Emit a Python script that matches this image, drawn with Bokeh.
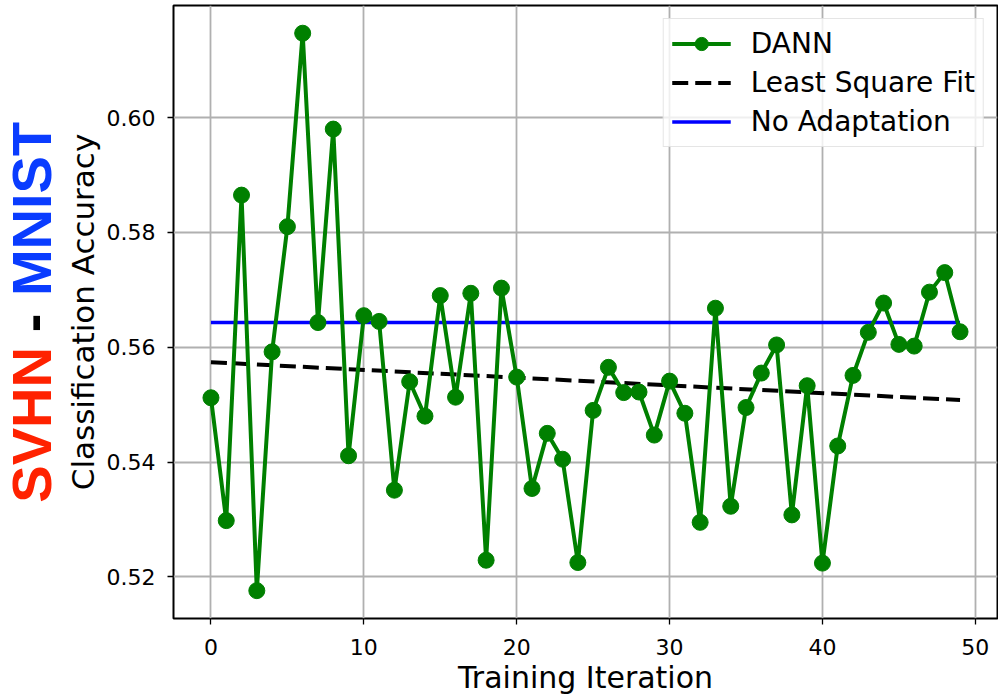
import math
from bokeh.plotting import figure
from bokeh.layouts import row
from bokeh.models import (Range1d, FixedTicker, PrintfTickFormatter, Legend, LegendItem, Label)
from bokeh.embed import file_html
from bokeh.resources import INLINE

# ---- data ----
iterations = list(range(50))
dann_acc = [0.5512, 0.5298, 0.5865, 0.5176, 0.5592, 0.5810, 0.6147, 0.5643, 0.5980, 0.5411,
            0.5655, 0.5645, 0.5351, 0.5540, 0.5480, 0.5690, 0.5513, 0.5694, 0.5229, 0.5703,
            0.5548, 0.5354, 0.5450, 0.5405, 0.5225, 0.5490, 0.5565, 0.5521, 0.5522, 0.5447,
            0.5541, 0.5485, 0.5295, 0.5668, 0.5323, 0.5495, 0.5555, 0.5604, 0.5308, 0.5533,
            0.5224, 0.5428, 0.5551, 0.5626, 0.5677, 0.5605, 0.5602, 0.5696, 0.5730, 0.5627]
fit_x = [0, 49]
fit_acc = [0.5574, 0.5508]
no_adapt_x = [0, 49]
no_adapt_acc = [0.5643, 0.5643]
x_ticks = [0, 10, 20, 30, 40, 50]
y_ticks = [0.52, 0.54, 0.56, 0.58, 0.60]
title_parts = ["SVHN", "-", "MNIST"]
title_colors = ["#ff2200", "black", "#0a3cff"]

FONT = "DejaVu Sans"
H = 697
SIDE_W = 103
FRAME_TOP, FRAME_BOTTOM = 5, 619

# ---- main chart ----
p = figure(width=895, height=H, output_backend="svg", toolbar_location=None,
           x_range=Range1d(-2.45, 51.45), y_range=Range1d(0.51275, 0.61953),
           min_border_left=70, min_border_right=1, min_border_top=FRAME_TOP,
           min_border_bottom=H - FRAME_BOTTOM)

p.outline_line_color = "black"
p.outline_line_width = 2
p.background_fill_color = "white"
p.border_fill_color = "white"

for ax in (p.xaxis[0], p.yaxis[0]):
    ax.axis_line_color = None
    ax.major_tick_out = 6
    ax.major_tick_in = 0
    ax.major_tick_line_color = "black"
    ax.major_tick_line_width = 1.3
    ax.minor_tick_line_color = None
    ax.major_label_text_font = FONT
    ax.major_label_text_font_size = "22px"
    ax.major_label_text_color = "black"
    ax.axis_label_text_font = FONT
    ax.axis_label_text_font_style = "normal"
    ax.axis_label_text_color = "black"

p.xaxis.ticker = FixedTicker(ticks=x_ticks)
p.yaxis.ticker = FixedTicker(ticks=y_ticks)
p.yaxis.formatter = PrintfTickFormatter(format="%.2f")
p.xaxis.axis_label = "Training Iteration"
p.xaxis.axis_label_text_font_size = "30px"
p.xaxis.axis_label_standoff = 2
p.xaxis.major_label_standoff = 14
p.yaxis.major_label_standoff = 12

p.grid.grid_line_color = "#b0b0b0"
p.grid.grid_line_width = 1.8

r_fit = p.line(fit_x, fit_acc, line_color="black", line_width=4, line_dash="16 7")
r_no = p.line(no_adapt_x, no_adapt_acc, line_color="#0000ff", line_width=3.5)
r_dl = p.line(iterations, dann_acc, line_color="green", line_width=4)
r_dm = p.scatter(iterations, dann_acc, size=16, fill_color="green", line_color="green")

legend = Legend(items=[
    LegendItem(label="DANN", renderers=[r_dl, r_dm]),
    LegendItem(label="Least Square Fit", renderers=[r_fit]),
    LegendItem(label="No Adaptation", renderers=[r_no]),
], location="top_right")
legend.label_text_font = FONT
legend.label_text_font_size = "28px"
legend.label_standoff = 20
legend.glyph_width = 59
legend.glyph_height = 33
legend.spacing = 6
legend.padding = 8
legend.margin = 13
legend.border_line_color = "#cccccc"
legend.border_line_width = 1.5
legend.background_fill_alpha = 0.8
legend.label_text_color = "black"
p.add_layout(legend, "center")

# ---- strip on the left carrying the dataset title and the y-axis title ----
# its frame is aligned with the main frame, so the range maps straight to page pixels
side = figure(width=SIDE_W, height=H, output_backend="svg", toolbar_location=None,
              x_range=Range1d(0, SIDE_W), y_range=Range1d(FRAME_BOTTOM, FRAME_TOP),
              x_axis_location=None, y_axis_location=None,
              min_border=0, min_border_left=0, min_border_right=0,
              min_border_top=FRAME_TOP, min_border_bottom=H - FRAME_BOTTOM)
side.outline_line_color = None
side.grid.visible = False
side.background_fill_color = "white"
side.border_fill_color = "white"

title_pos = [(503, "left"), (323, "center"), (296, "left")]
for txt, col, (yy, al) in zip(title_parts, title_colors, title_pos):
    side.add_layout(Label(x=31, y=yy, text=txt, text_color=col, angle=math.pi / 2,
                          text_font="Arial", text_font_style="bold",
                          text_font_size="56px", text_baseline="middle", text_align=al))

side.add_layout(Label(x=82, y=312, text="Classification Accuracy", text_color="black",
                      angle=math.pi / 2, text_font=FONT, text_font_size="31px",
                      text_baseline="middle", text_align="center"))

layout = row(side, p, spacing=0)
open("out.html", "w").write(file_html(layout, INLINE))
